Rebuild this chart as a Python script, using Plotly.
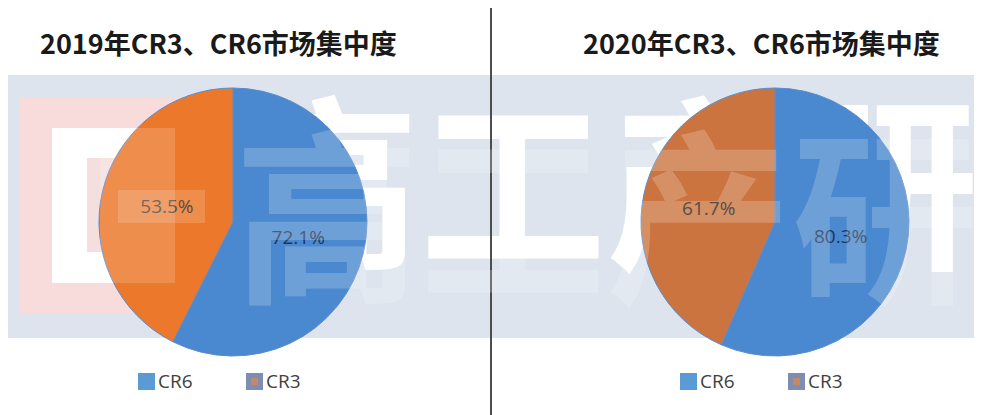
import plotly.graph_objects as go

# Data
labels = ["CR6", "CR3"]
values_2019 = [72.1, 53.5]
values_2020 = [80.3, 61.7]
text_2019 = ["72.1%", "53.5%"]
text_2020 = ["80.3%", "61.7%"]
titles = ["2019年CR3、CR6市场集中度", "2020年CR3、CR6市场集中度"]
watermark = "高工产研"

W, H = 982, 415
OFF = 8  # page body margin
def px(x): return (x - OFF) / W
def py(y): return 1 - (y - OFF) / H

fig = go.Figure()

WM_X, WM_Y = px(606), py(208)

# watermark white letters (below the pies)
fig.add_trace(go.Scatter(
    x=[WM_X], y=[WM_Y], mode="text", text=[watermark], cliponaxis=False,
    textfont=dict(size=186, color="white", family="Noto Sans CJK SC", weight="bold"),
    hoverinfo="skip", showlegend=False, xaxis="x", yaxis="y"))

def add_pie(vals, txt, cx, cy, r, colors, tcolors):
    fig.add_trace(go.Pie(
        labels=labels, values=vals, text=txt, textinfo="text",
        textposition="inside", insidetextorientation="horizontal",
        sort=False, direction="clockwise", rotation=0,
        marker=dict(colors=colors, line=dict(color="#5b8ccc", width=1)),
        textfont=dict(size=19, color=tcolors, family="Open Sans"),
        domain=dict(x=[px(cx - r), px(cx + r)], y=[py(cy + r), py(cy - r)]),
        showlegend=False, hoverinfo="label+text"))

add_pie(values_2019, text_2019, 233, 222, 134, ["#4a88cf", "#ec782c"], ["#1f3558", "#3a2a20"])
add_pie(values_2020, text_2020, 775, 222, 134, ["#4a88cf", "#cc7440"], ["#1f3558", "#2a2018"])

shapes = []
# light band
shapes.append(dict(type="rect", xref="paper", yref="paper", x0=px(0), x1=1,
                   y0=py(338), y1=py(75), fillcolor="#dde4ee", line_width=0, layer="below"))
# pink logo
shapes.append(dict(type="rect", xref="paper", yref="paper", x0=px(20), x1=px(180),
                   y0=py(313), y1=py(98), fillcolor="#f8dcdc", line_width=0, layer="below"))
shapes.append(dict(type="rect", xref="paper", yref="paper", x0=px(52), x1=px(180),
                   y0=py(283), y1=py(128), fillcolor="#ffffff", line_width=0, layer="below"))
shapes.append(dict(type="rect", xref="paper", yref="paper", x0=px(87), x1=px(180),
                   y0=py(252), y1=py(158), fillcolor="#f5dede", line_width=0, layer="below"))
# logo lightening over pie
shapes.append(dict(type="rect", xref="paper", yref="paper", x0=px(100), x1=px(175),
                   y0=py(283), y1=py(128), fillcolor="rgba(255,255,255,0.16)", line_width=0, layer="above"))
shapes.append(dict(type="rect", xref="paper", yref="paper", x0=px(118), x1=px(205),
                   y0=py(223), y1=py(190), fillcolor="rgba(255,255,255,0.16)", line_width=0, layer="above"))
# divider
shapes.append(dict(type="line", xref="paper", yref="paper", x0=px(491), x1=px(491),
                   y0=0, y1=py(0), line=dict(color="#4d4d4d", width=2), layer="above"))

ann = []
# legends (manual)
def legend(x_sw, name, fill, inner=None):
    shapes.append(dict(type="rect", xref="paper", yref="paper", x0=px(x_sw), x1=px(x_sw + 17),
                       y0=py(390), y1=py(373), fillcolor=fill, line_width=0))
    if inner:
        shapes.append(dict(type="rect", xref="paper", yref="paper", x0=px(x_sw + 5), x1=px(x_sw + 12),
                           y0=py(385), y1=py(378), fillcolor=inner, line_width=0))
    ann.append(dict(x=px(x_sw + 18), y=py(381), xref="paper", yref="paper", text=name,
                    showarrow=False, xanchor="left", yanchor="middle",
                    font=dict(size=19, color="#404040", family="Open Sans")))

legend(138, labels[0], "#5b9bd5")
legend(246, labels[1], "#7f8db0", "#c4886a")
legend(680, labels[0], "#5b9bd5")
legend(788, labels[1], "#7f8db0", "#c4886a")

# titles
for tx, t in zip([218, 761], titles):
    ann.append(dict(x=px(tx), y=py(43), xref="paper", yref="paper", text=t, showarrow=False,
                    xanchor="center", yanchor="middle",
                    font=dict(size=27, color="#1a1a1a", family="Noto Sans CJK SC", weight="bold")))
# watermark lightening over pies
ann.append(dict(x=WM_X, y=WM_Y, xref="paper", yref="paper", text=watermark, showarrow=False,
                xanchor="center", yanchor="middle",
                opacity=0.2, font=dict(size=186, color="white", family="Noto Sans CJK SC", weight="bold")))

fig.update_layout(
    width=W, height=H, margin=dict(l=0, r=0, t=0, b=0),
    paper_bgcolor="white", plot_bgcolor="rgba(0,0,0,0)",
    xaxis=dict(domain=[0, 1], range=[0, 1], visible=False, fixedrange=True),
    yaxis=dict(domain=[0, 1], range=[0, 1], visible=False, fixedrange=True),
    shapes=shapes, annotations=ann, showlegend=False)

fig.write_html("out.html")
